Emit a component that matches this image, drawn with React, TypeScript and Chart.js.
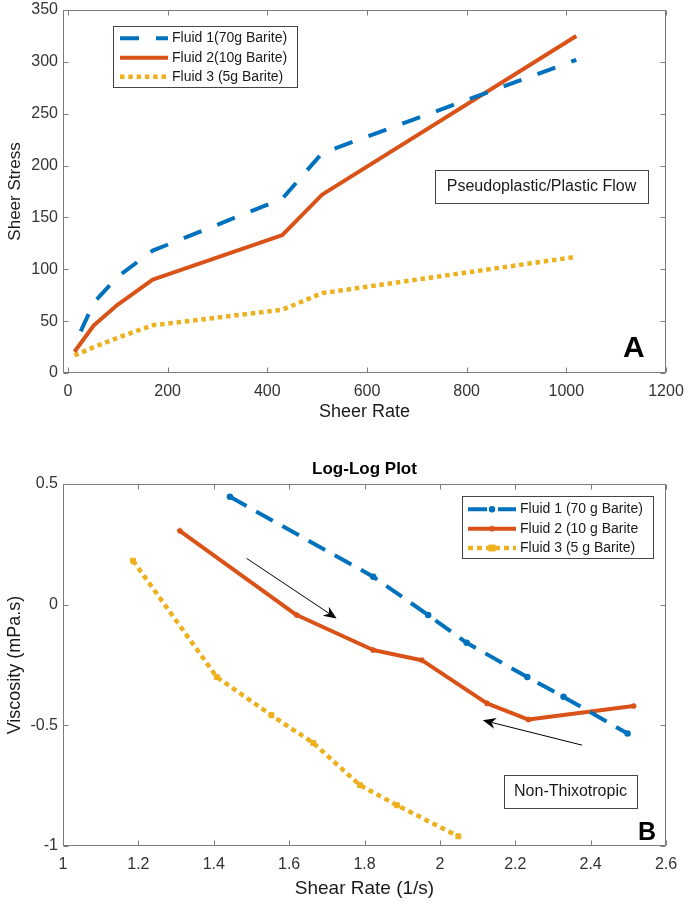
import React, { useEffect, useRef } from 'react';
import { Chart, registerables } from 'chart.js';

Chart.register(...registerables);

const FONT = '"Liberation Sans", Arial, Helvetica, sans-serif';
const BLUE = '#0072BD';
const ORANGE = '#D95319';
const YELLOW = '#EDB120';
const AXIS_COLOR = '#7a7a7a';
const TICK_COLOR = '#333333';
const TEXT_COLOR = '#1a1a1a';

// ---------- Panel A: Sheer Stress vs Sheer Rate ----------
const shearRateA = [13, 52, 100, 170, 430, 510, 1020];
const fluid1StressA = [27, 68, 93, 118, 168, 212, 302];
const fluid2StressA = [20.5, 46, 66, 90, 133, 172, 325];
const fluid3StressA = [17, 25, 34, 46, 61, 77, 112];
const labelsA = ['Fluid 1(70g Barite)', 'Fluid 2(10g Barite)', 'Fluid 3 (5g Barite)'];
const xTicksA = [0, 200, 400, 600, 800, 1000, 1200];
const yTicksA = [0, 50, 100, 150, 200, 250, 300, 350];

// ---------- Panel B: Log-Log Plot ----------
const fluid1LogRateB = [1.443, 1.823, 1.969, 2.071, 2.232, 2.328, 2.498];
const fluid1LogViscB = [0.447, 0.116, -0.043, -0.158, -0.3, -0.382, -0.534];
const fluid2LogRateB = [1.31, 1.62, 1.823, 1.952, 2.125, 2.235, 2.514];
const fluid2LogViscB = [0.306, -0.043, -0.188, -0.23, -0.409, -0.476, -0.42];
const fluid3LogRateB = [1.186, 1.408, 1.553, 1.664, 1.788, 1.886, 2.049];
const fluid3LogViscB = [0.182, -0.3, -0.458, -0.573, -0.748, -0.831, -0.96];
const labelsB = ['Fluid 1 (70 g Barite)', 'Fluid 2 (10 g Barite', 'Fluid 3 (5 g Barite)'];
const xTicksB = [1, 1.2, 1.4, 1.6, 1.8, 2, 2.2, 2.4, 2.6];
const yTicksB = [-1, -0.5, 0, 0.5];
const arrowFromB = [[1.487, 0.192], [2.377, -0.582]];
const arrowToB = [[1.726, -0.057], [2.114, -0.479]];

const pts = (xs: number[], ys: number[]) => xs.map((x, i) => ({ x, y: ys[i] }));

function linScale(
  min: number,
  max: number,
  tickVals: number[],
  title: string,
  titleSize: number,
  titlePad: any,
  tickPad: number,
  fit: (s: any) => void
) {
  return {
    type: 'linear',
    min,
    max,
    afterBuildTicks: (s: any) => {
      s.ticks = tickVals.map((v) => ({ value: v }));
    },
    afterFit: (s: any) => {
      fit(s);
      s.paddingTop = 0;
      s.paddingBottom = 0;
      s.paddingLeft = 0;
      s.paddingRight = 0;
    },
    grid: { display: false, drawTicks: false },
    border: { display: false },
    ticks: {
      font: { family: FONT, size: 16 },
      color: TICK_COLOR,
      padding: tickPad,
      autoSkip: false,
      maxRotation: 0,
      callback: (v: any) => String(v),
    },
    title: {
      display: true,
      text: title,
      color: TEXT_COLOR,
      font: { family: FONT, size: titleSize },
      padding: titlePad,
    },
  };
}

function drawAxesBox(chart: any) {
  const { ctx, chartArea: a, scales } = chart;
  const L = a.left + 0.5;
  const R = a.right - 0.5;
  const T = a.top + 0.5;
  const B = a.bottom - 0.5;
  const tl = 5;
  ctx.save();
  ctx.strokeStyle = AXIS_COLOR;
  ctx.lineWidth = 1;
  ctx.setLineDash([]);
  ctx.beginPath();
  ctx.rect(L, T, R - L, B - T);
  for (const t of scales.x.ticks) {
    const p = Math.round(scales.x.getPixelForValue(t.value)) + 0.5;
    ctx.moveTo(p, B);
    ctx.lineTo(p, B - tl);
    ctx.moveTo(p, T);
    ctx.lineTo(p, T + tl);
  }
  for (const t of scales.y.ticks) {
    const p = Math.round(scales.y.getPixelForValue(t.value)) + 0.5;
    ctx.moveTo(L, p);
    ctx.lineTo(L + tl, p);
    ctx.moveTo(R, p);
    ctx.lineTo(R - tl, p);
  }
  ctx.stroke();
  ctx.restore();
}

function drawMarker(ctx: any, style: string, x: number, y: number, r: number, color: string, bw: number) {
  ctx.save();
  ctx.setLineDash([]);
  ctx.strokeStyle = color;
  ctx.fillStyle = color;
  ctx.lineWidth = bw;
  ctx.beginPath();
  if (style === 'circle') {
    ctx.arc(x, y, r, 0, Math.PI * 2);
    ctx.fill();
    ctx.stroke();
  } else if (style === 'rect') {
    ctx.rect(x - r, y - r, 2 * r, 2 * r);
    ctx.fill();
  } else if (style === 'star') {
    ctx.moveTo(x - r, y);
    ctx.lineTo(x + r, y);
    ctx.moveTo(x, y - r);
    ctx.lineTo(x, y + r);
    const d = r * 0.707;
    ctx.moveTo(x - d, y - d);
    ctx.lineTo(x + d, y + d);
    ctx.moveTo(x - d, y + d);
    ctx.lineTo(x + d, y - d);
    ctx.stroke();
  }
  ctx.restore();
}

function drawLegend(
  chart: any,
  box: { x: number; y: number; w: number; h: number },
  rows: number[],
  sample: number[],
  textX: number,
  fontSize: number
) {
  const ctx = chart.ctx;
  ctx.save();
  ctx.fillStyle = '#ffffff';
  ctx.fillRect(box.x, box.y, box.w, box.h);
  ctx.strokeStyle = '#444444';
  ctx.lineWidth = 1;
  ctx.strokeRect(box.x + 0.5, box.y + 0.5, box.w, box.h);
  chart.data.datasets.forEach((ds: any, i: number) => {
    const y = rows[i];
    ctx.save();
    ctx.strokeStyle = ds.borderColor;
    ctx.lineWidth = ds.borderWidth;
    ctx.lineCap = 'butt';
    ctx.setLineDash(ds.borderDash || []);
    ctx.lineDashOffset = 0;
    ctx.beginPath();
    ctx.moveTo(sample[0], y);
    ctx.lineTo(sample[1], y);
    ctx.stroke();
    ctx.restore();
    if (ds.pointRadius > 0) {
      drawMarker(ctx, ds.pointStyle, (sample[0] + sample[1]) / 2, y, ds.pointRadius, ds.borderColor, ds.pointBorderWidth || 1);
    }
    ctx.fillStyle = TEXT_COLOR;
    ctx.font = `${fontSize}px ${FONT}`;
    ctx.textAlign = 'left';
    ctx.textBaseline = 'middle';
    ctx.fillText(ds.label, textX, y);
  });
  ctx.restore();
}

function drawTextBox(ctx: any, text: string, box: { x: number; y: number; w: number; h: number }, baseline: number, size: number) {
  ctx.save();
  ctx.strokeStyle = '#444444';
  ctx.lineWidth = 1;
  ctx.strokeRect(box.x + 0.5, box.y + 0.5, box.w, box.h);
  ctx.fillStyle = TEXT_COLOR;
  ctx.font = `${size}px ${FONT}`;
  ctx.textAlign = 'center';
  ctx.textBaseline = 'alphabetic';
  ctx.fillText(text, box.x + box.w / 2, baseline);
  ctx.restore();
}

function drawArrow(ctx: any, x0: number, y0: number, x1: number, y1: number) {
  const ang = Math.atan2(y1 - y0, x1 - x0);
  const ux = Math.cos(ang);
  const uy = Math.sin(ang);
  const len = 13;
  const hw = 5.5;
  const notch = 4;
  ctx.save();
  ctx.strokeStyle = '#000';
  ctx.fillStyle = '#000';
  ctx.lineWidth = 1;
  ctx.beginPath();
  ctx.moveTo(x0, y0);
  ctx.lineTo(x1 - ux * (len - notch), y1 - uy * (len - notch));
  ctx.stroke();
  ctx.beginPath();
  ctx.moveTo(x1, y1);
  ctx.lineTo(x1 - ux * len - uy * hw, y1 - uy * len + ux * hw);
  ctx.lineTo(x1 - ux * (len - notch), y1 - uy * (len - notch));
  ctx.lineTo(x1 - ux * len + uy * hw, y1 - uy * len - ux * hw);
  ctx.closePath();
  ctx.fill();
  ctx.restore();
}

const decoA = {
  id: 'decoA',
  afterDraw(chart: any) {
    const ctx = chart.ctx;
    drawAxesBox(chart);
    drawLegend(chart, { x: 113, y: 26, w: 184, h: 61 }, [38.3, 57.7, 76.7], [120, 168], 172, 14);
    drawTextBox(ctx, 'Pseudoplastic/Plastic Flow', { x: 435, y: 170, w: 213, h: 33 }, 191, 16);
    ctx.save();
    ctx.fillStyle = '#000';
    ctx.font = `bold 30px ${FONT}`;
    ctx.textAlign = 'left';
    ctx.textBaseline = 'alphabetic';
    ctx.fillText('A', 623, 357);
    ctx.restore();
  },
};

const decoB = {
  id: 'decoB',
  afterDraw(chart: any) {
    const ctx = chart.ctx;
    const { x, y } = chart.scales;
    drawAxesBox(chart);
    arrowFromB.forEach((f, i) => {
      const t = arrowToB[i];
      drawArrow(ctx, x.getPixelForValue(f[0]), y.getPixelForValue(f[1]), x.getPixelForValue(t[0]), y.getPixelForValue(t[1]));
    });
    drawLegend(chart, { x: 462, y: 51, w: 191, h: 62 }, [64.3, 83.7, 103], [468, 516], 520, 14);
    drawTextBox(ctx, 'Non-Thixotropic', { x: 504, y: 330, w: 133, h: 33 }, 351, 16);
    ctx.save();
    ctx.fillStyle = '#000';
    ctx.font = `bold 25px ${FONT}`;
    ctx.textAlign = 'left';
    ctx.textBaseline = 'alphabetic';
    ctx.fillText('B', 638, 394.5);
    ctx.restore();
  },
};

function configA(): any {
  return {
    type: 'line',
    data: {
      datasets: [
        {
          label: labelsA[0],
          data: pts(shearRateA, fluid1StressA),
          borderColor: BLUE,
          borderWidth: 4,
          borderDash: [19, 17],
          borderDashOffset: 21,
          pointRadius: 0,
          tension: 0,
          fill: false,
        },
        {
          label: labelsA[1],
          data: pts(shearRateA, fluid2StressA),
          borderColor: ORANGE,
          borderWidth: 4,
          borderJoinStyle: 'round',
          pointRadius: 0,
          tension: 0,
          fill: false,
        },
        {
          label: labelsA[2],
          data: pts(shearRateA, fluid3StressA),
          borderColor: YELLOW,
          borderWidth: 4.5,
          borderDash: [4.5, 3.8],
          pointRadius: 0,
          tension: 0,
          fill: false,
        },
      ],
    },
    options: {
      responsive: false,
      animation: false,
      devicePixelRatio: 1,
      events: [],
      layout: { padding: { left: 0, right: 19, top: 10, bottom: 0 } },
      plugins: { legend: { display: false }, tooltip: { enabled: false }, title: { display: false } },
      scales: {
        x: linScale(-10, 1200, xTicksA, 'Sheer Rate', 18, { top: 0, bottom: 22 }, 9, (s: any) => {
          s.height = 72;
        }),
        y: linScale(0, 350, yTicksA, 'Sheer Stress', 17, { top: 5.4, bottom: 0 }, 5, (s: any) => {
          s.width = 63;
        }),
      },
    },
    plugins: [decoA],
  };
}

function configB(): any {
  return {
    type: 'line',
    data: {
      datasets: [
        {
          label: labelsB[0],
          data: pts(fluid1LogRateB, fluid1LogViscB),
          borderColor: BLUE,
          backgroundColor: BLUE,
          borderWidth: 4,
          borderDash: [19, 11],
          pointStyle: 'circle',
          pointRadius: 2.5,
          pointBorderWidth: 1.5,
          pointBackgroundColor: BLUE,
          pointBorderColor: BLUE,
          tension: 0,
          fill: false,
        },
        {
          label: labelsB[1],
          data: pts(fluid2LogRateB, fluid2LogViscB),
          borderColor: ORANGE,
          backgroundColor: ORANGE,
          borderWidth: 4,
          borderJoinStyle: 'round',
          pointStyle: 'star',
          pointRadius: 3,
          pointBorderWidth: 1.5,
          pointBorderColor: ORANGE,
          tension: 0,
          fill: false,
        },
        {
          label: labelsB[2],
          data: pts(fluid3LogRateB, fluid3LogViscB),
          borderColor: YELLOW,
          backgroundColor: YELLOW,
          borderWidth: 4.5,
          borderDash: [5, 4],
          pointStyle: 'rect',
          pointRadius: 3.5,
          pointBorderWidth: 1,
          pointBackgroundColor: YELLOW,
          pointBorderColor: YELLOW,
          tension: 0,
          fill: false,
        },
      ],
    },
    options: {
      responsive: false,
      animation: false,
      devicePixelRatio: 1,
      events: [],
      layout: { padding: { left: 0, right: 19, top: 0, bottom: 0 } },
      plugins: {
        legend: { display: false },
        tooltip: { enabled: false },
        title: {
          display: true,
          text: 'Log-Log Plot',
          fullSize: false,
          color: '#000',
          font: { family: FONT, size: 17, weight: 'bold' },
          padding: { top: 14.6, bottom: 4 },
        },
      },
      scales: {
        x: linScale(1, 2.6, xTicksB, 'Shear Rate (1/s)', 19, { top: 0, bottom: 5.2 }, 9, (s: any) => {
          s.height = 59;
        }),
        y: linScale(-1, 0.5, yTicksB, 'Viscosity (mPa.s)', 18, { top: 4, bottom: 0 }, 5, (s: any) => {
          s.width = 63;
        }),
      },
    },
    plugins: [decoB],
  };
}

export default function App() {
  const aRef = useRef<HTMLCanvasElement>(null);
  const bRef = useRef<HTMLCanvasElement>(null);
  useEffect(() => {
    const ca = new Chart(aRef.current as HTMLCanvasElement, configA());
    const cb = new Chart(bRef.current as HTMLCanvasElement, configB());
    return () => {
      ca.destroy();
      cb.destroy();
    };
  }, []);
  return (
    <div style={{ position: 'absolute', left: 0, top: 0, width: 685, height: 905, background: '#ffffff' }}>
      <canvas
        ref={aRef}
        width={685}
        height={445}
        style={{ position: 'absolute', left: 0, top: 0, width: 685, height: 445 }}
      />
      <canvas
        ref={bRef}
        width={685}
        height={460}
        style={{ position: 'absolute', left: 0, top: 445, width: 685, height: 460 }}
      />
    </div>
  );
}
